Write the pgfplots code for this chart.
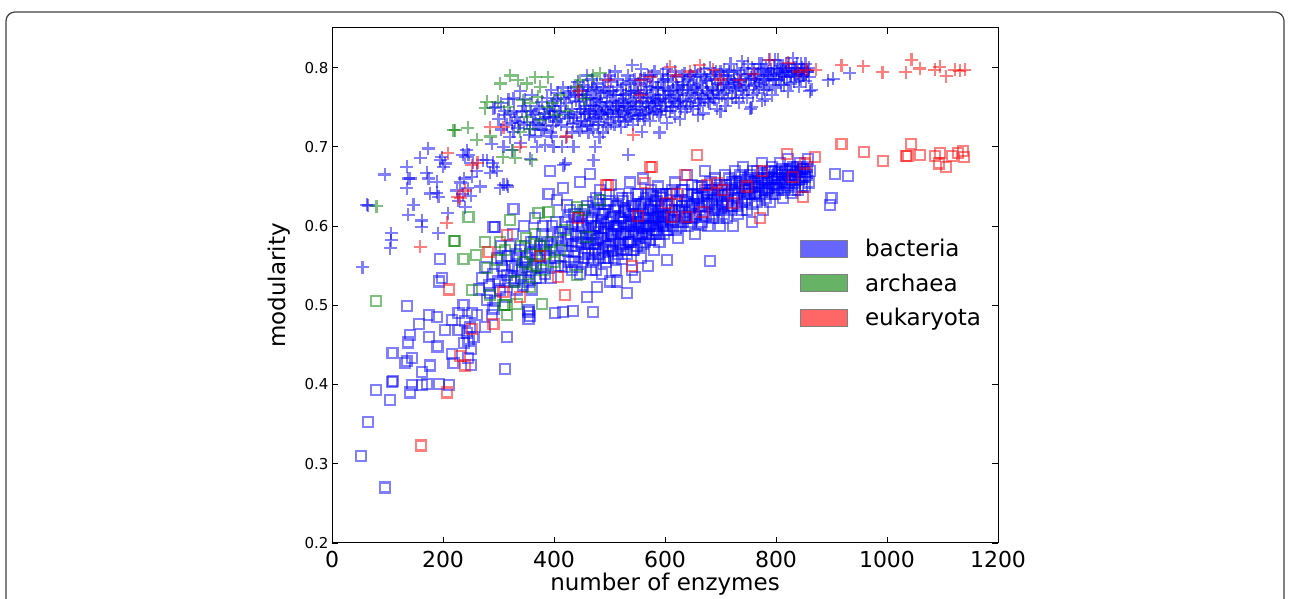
\documentclass[border=0pt]{standalone}
\usepackage{fontspec}
\setmainfont{DejaVu Sans}
\usepackage{pgfplots}
\usepackage{pgfplotstable}
\pgfplotsset{compat=1.18}

% bacteria, plus marker (x = number of enzymes, y = modularity)
\pgfplotstableread{
x y
55 0.548
63 0.627
65 0.626
95 0.665
107 0.591
107 0.582
105 0.572
135 0.675
137 0.66
135 0.648
141 0.66
137 0.614
147 0.627
159 0.686
162 0.607
162 0.599
171 0.667
174 0.66
173 0.698
177 0.641
189 0.656
189 0.642
191 0.591
192 0.637
195 0.683
198 0.687
200 0.675
204 0.679
209 0.616
225 0.645
228 0.632
231 0.655
236 0.69
240 0.687
243 0.696
246 0.69
240 0.624
238 0.66
245 0.648
250 0.638
254 0.68
252 0.662
236 0.64
261 0.67
267 0.65
272 0.683
279 0.683
285 0.667
290 0.68
291 0.675
297 0.67
303 0.648
309 0.652
315 0.652
317 0.65
309 0.70
324 0.696
294 0.75
291 0.749
312 0.74
324 0.73
327 0.719
288 0.704
321 0.742
327 0.761
333 0.738
339 0.77
342 0.744
357 0.723
366 0.713
369 0.70
357 0.685
381 0.721
384 0.702
396 0.713
399 0.70
414 0.70
417 0.677
420 0.679
435 0.70
471 0.683
474 0.70
534 0.69
558 0.719
345 0.752
352 0.731
360 0.765
366 0.742
372 0.728
378 0.757
384 0.737
390 0.748
395 0.772
398 0.726
402 0.745
405 0.76
408 0.735
412 0.752
416 0.775
420 0.742
424 0.725
428 0.763
432 0.748
436 0.737
440 0.758
443 0.782
446 0.72
448 0.744
452 0.766
455 0.733
458 0.752
460 0.79
462 0.741
465 0.762
467 0.728
470 0.753
472 0.775
475 0.738
477 0.76
480 0.745
482 0.712
485 0.768
487 0.752
490 0.735
492 0.785
495 0.757
497 0.744
500 0.77
502 0.73
505 0.758
507 0.748
510 0.795
512 0.765
515 0.738
517 0.755
520 0.772
523 0.745
525 0.76
528 0.732
530 0.78
533 0.752
536 0.768
538 0.74
541 0.803
543 0.757
546 0.746
548 0.772
551 0.735
554 0.762
556 0.785
559 0.75
562 0.768
565 0.743
567 0.777
570 0.756
573 0.733
576 0.79
578 0.762
581 0.748
584 0.772
587 0.758
590 0.74
593 0.782
596 0.765
600 0.752
603 0.798
606 0.77
609 0.745
612 0.76
615 0.782
618 0.738
621 0.765
624 0.775
627 0.752
630 0.79
633 0.76
636 0.744
639 0.772
642 0.785
645 0.758
648 0.768
651 0.748
654 0.795
657 0.772
660 0.755
663 0.781
666 0.765
669 0.742
672 0.788
675 0.77
678 0.757
681 0.8
684 0.775
687 0.762
690 0.785
693 0.748
696 0.772
700 0.795
703 0.765
706 0.78
709 0.752
712 0.79
715 0.775
718 0.805
721 0.762
724 0.785
727 0.77
730 0.797
733 0.756
736 0.782
739 0.808
742 0.775
745 0.79
748 0.762
751 0.785
754 0.748
757 0.8
760 0.777
763 0.79
766 0.768
769 0.805
772 0.782
775 0.758
778 0.795
781 0.785
784 0.772
787 0.81
790 0.79
793 0.765
796 0.8
800 0.785
803 0.81
806 0.793
809 0.778
812 0.8
815 0.788
818 0.805
821 0.77
824 0.797
827 0.79
830 0.812
833 0.782
836 0.8
839 0.793
842 0.776
845 0.805
848 0.79
851 0.798
854 0.783
857 0.795
860 0.788
861 0.77
864 0.772
894 0.784
903 0.786
933 0.793
603 0.73
627 0.735
590 0.718
660 0.74
700 0.745
756 0.75
780 0.76
300 0.735
305 0.722
310 0.745
315 0.728
320 0.712
330 0.733
335 0.724
340 0.705
346 0.728
350 0.745
355 0.715
362 0.74
368 0.73
373 0.748
377 0.722
382 0.742
386 0.728
392 0.738
394 0.718
397 0.752
401 0.758
404 0.732
407 0.768
410 0.744
413 0.728
418 0.761
422 0.755
426 0.737
430 0.77
434 0.729
438 0.765
442 0.741
445 0.757
449 0.733
451 0.771
454 0.748
457 0.765
459 0.727
461 0.776
464 0.745
466 0.752
468 0.771
471 0.736
473 0.759
476 0.748
478 0.78
481 0.731
483 0.757
486 0.742
488 0.776
491 0.75
493 0.728
496 0.768
498 0.741
501 0.755
503 0.782
506 0.738
508 0.765
511 0.746
513 0.776
516 0.751
518 0.733
521 0.758
524 0.778
526 0.742
529 0.766
531 0.75
534 0.735
537 0.783
539 0.755
542 0.743
544 0.77
547 0.758
549 0.739
552 0.78
555 0.748
557 0.767
560 0.74
563 0.786
566 0.755
568 0.763
571 0.745
574 0.776
577 0.752
579 0.782
582 0.76
585 0.744
588 0.774
591 0.755
594 0.748
597 0.785
599 0.765
602 0.757
605 0.785
608 0.762
611 0.75
614 0.772
617 0.758
620 0.788
623 0.755
626 0.768
629 0.748
632 0.778
635 0.792
638 0.757
641 0.765
644 0.778
647 0.752
650 0.788
653 0.762
656 0.778
659 0.768
662 0.752
665 0.792
668 0.775
671 0.76
674 0.783
677 0.768
680 0.755
683 0.79
686 0.772
689 0.76
692 0.795
695 0.78
698 0.762
701 0.778
704 0.79
707 0.768
710 0.772
713 0.76
716 0.795
719 0.782
722 0.775
725 0.795
728 0.762
731 0.785
734 0.778
737 0.792
740 0.765
743 0.8
746 0.778
749 0.792
752 0.772
755 0.787
758 0.765
761 0.798
764 0.78
767 0.792
770 0.775
773 0.798
776 0.785
779 0.772
782 0.8
785 0.79
788 0.778
791 0.798
794 0.785
797 0.792
799 0.775
802 0.798
805 0.785
808 0.802
811 0.79
814 0.778
817 0.795
820 0.788
823 0.805
826 0.78
829 0.795
832 0.8
835 0.79
838 0.805
841 0.792
844 0.785
847 0.8
850 0.79
853 0.805
856 0.795
859 0.8
421 0.712
425 0.768
429 0.74
433 0.718
437 0.775
441 0.73
444 0.765
447 0.748
450 0.725
453 0.778
456 0.742
459 0.762
462 0.718
465 0.735
468 0.785
470 0.722
473 0.745
476 0.772
479 0.728
482 0.762
485 0.74
488 0.718
491 0.77
494 0.747
497 0.725
500 0.79
503 0.742
506 0.77
509 0.728
512 0.752
515 0.785
518 0.745
521 0.725
524 0.765
527 0.755
530 0.738
533 0.79
536 0.748
539 0.77
542 0.728
545 0.785
548 0.752
551 0.768
554 0.74
557 0.798
560 0.758
563 0.735
566 0.772
569 0.79
572 0.75
575 0.765
578 0.742
581 0.795
584 0.758
587 0.775
590 0.76
593 0.745
596 0.792
599 0.775
602 0.745
606 0.79
610 0.77
614 0.75
618 0.795
622 0.778
626 0.758
630 0.772
634 0.782
640 0.75
646 0.79
652 0.775
658 0.79
664 0.76
670 0.798
676 0.785
682 0.765
688 0.792
694 0.77
706 0.798
714 0.785
726 0.78
738 0.772
750 0.805
762 0.785
774 0.805
786 0.795
798 0.81
810 0.795
822 0.8
834 0.795
846 0.795
305 0.755
318 0.76
328 0.745
338 0.73
348 0.76
358 0.745
363 0.728
370 0.752
380 0.735
388 0.762
393 0.745
399 0.738
}\bplus

% bacteria, square marker
\pgfplotstableread{
x y
53 0.31
65 0.353
79 0.393
95 0.27
105 0.38
108 0.403
110 0.405
109 0.44
135 0.499
132 0.427
135 0.43
144 0.433
137 0.453
141 0.462
141 0.39
144 0.399
157 0.476
162 0.399
162 0.416
171 0.401
174 0.488
174 0.46
177 0.424
189 0.485
190 0.448
192 0.401
192 0.53
195 0.558
198 0.535
204 0.469
211 0.399
216 0.481
216 0.439
219 0.427
228 0.49
228 0.469
237 0.50
240 0.48
243 0.465
246 0.455
248 0.472
250 0.445
252 0.49
255 0.46
238 0.452
245 0.433
250 0.425
261 0.488
276 0.473
279 0.507
285 0.515
288 0.488
291 0.496
294 0.505
291 0.599
294 0.599
312 0.42
315 0.46
354 0.494
357 0.486
354 0.492
354 0.483
327 0.622
265 0.52
270 0.535
275 0.548
283 0.525
290 0.54
297 0.56
300 0.53
305 0.575
310 0.545
314 0.51
318 0.562
322 0.535
326 0.59
330 0.55
334 0.52
338 0.57
342 0.545
346 0.6
350 0.56
354 0.53
358 0.58
362 0.55
366 0.61
370 0.565
374 0.535
378 0.59
382 0.575
386 0.55
390 0.641
393 0.669
396 0.6
400 0.57
402 0.49
405 0.633
408 0.585
412 0.55
417 0.648
417 0.492
420 0.605
423 0.627
426 0.568
430 0.59
433 0.545
435 0.493
437 0.615
440 0.575
443 0.6
447 0.656
450 0.555
453 0.585
456 0.62
459 0.51
461 0.57
463 0.595
465 0.666
467 0.545
469 0.61
471 0.491
473 0.578
475 0.635
477 0.523
479 0.6
481 0.565
483 0.645
485 0.585
487 0.54
489 0.615
491 0.598
493 0.555
495 0.628
497 0.575
499 0.605
501 0.53
503 0.652
505 0.59
507 0.568
509 0.62
511 0.545
513 0.53
515 0.6
517 0.64
519 0.575
521 0.61
523 0.558
525 0.632
527 0.59
529 0.57
531 0.515
533 0.62
535 0.6
537 0.655
539 0.58
541 0.545
543 0.615
545 0.595
546 0.536
548 0.64
550 0.575
552 0.605
554 0.625
556 0.56
558 0.59
560 0.66
562 0.61
564 0.58
566 0.635
568 0.6
570 0.55
572 0.62
574 0.645
576 0.59
578 0.605
580 0.57
582 0.63
584 0.615
586 0.595
588 0.65
590 0.58
592 0.62
594 0.605
596 0.64
598 0.59
600 0.625
603 0.557
603 0.61
606 0.595
609 0.64
612 0.62
615 0.6
618 0.655
621 0.63
624 0.585
627 0.615
630 0.645
633 0.605
636 0.63
639 0.665
642 0.6
645 0.625
648 0.64
651 0.61
654 0.59
657 0.635
660 0.65
663 0.62
666 0.605
669 0.64
672 0.67
675 0.625
678 0.6
681 0.556
681 0.645
684 0.63
687 0.61
690 0.66
693 0.635
696 0.62
699 0.6
702 0.645
705 0.625
708 0.665
711 0.61
714 0.64
717 0.652
720 0.625
723 0.6
726 0.67
729 0.64
732 0.615
735 0.655
738 0.63
741 0.675
744 0.645
747 0.62
750 0.66
753 0.64
756 0.605
759 0.67
762 0.65
765 0.63
768 0.66
771 0.64
774 0.68
777 0.62
780 0.655
783 0.645
786 0.668
789 0.63
792 0.675
795 0.65
798 0.64
801 0.665
804 0.645
807 0.68
810 0.655
813 0.635
816 0.67
819 0.652
822 0.685
825 0.66
828 0.642
831 0.675
834 0.655
837 0.668
840 0.645
843 0.68
846 0.66
849 0.672
852 0.65
855 0.665
858 0.685
861 0.67
897 0.627
900 0.636
906 0.666
930 0.663
302 0.52
306 0.55
316 0.538
320 0.575
328 0.53
332 0.565
336 0.545
344 0.525
348 0.575
352 0.548
356 0.565
360 0.52
364 0.58
368 0.535
372 0.56
376 0.548
380 0.6
384 0.54
388 0.58
392 0.56
395 0.535
398 0.59
401 0.56
404 0.605
407 0.55
410 0.592
414 0.575
419 0.548
422 0.585
425 0.612
428 0.555
432 0.6
436 0.568
439 0.59
442 0.548
445 0.612
448 0.578
451 0.6
454 0.56
457 0.585
460 0.625
462 0.56
464 0.578
466 0.605
468 0.588
470 0.555
472 0.62
474 0.57
476 0.6
478 0.583
480 0.628
482 0.56
484 0.598
486 0.615
488 0.57
490 0.59
492 0.62
494 0.575
496 0.605
498 0.56
500 0.632
502 0.59
504 0.57
506 0.612
508 0.6
510 0.58
512 0.625
514 0.595
516 0.565
518 0.61
520 0.59
522 0.635
524 0.578
526 0.605
528 0.618
530 0.59
532 0.565
534 0.635
536 0.58
538 0.605
540 0.625
542 0.59
544 0.57
547 0.615
549 0.6
551 0.64
553 0.585
555 0.61
557 0.628
559 0.598
561 0.578
563 0.63
565 0.61
567 0.59
569 0.64
571 0.6
573 0.582
575 0.625
577 0.61
579 0.638
581 0.595
583 0.6
585 0.632
587 0.612
589 0.59
591 0.64
593 0.605
595 0.625
597 0.6
599 0.612
601 0.64
604 0.595
607 0.625
610 0.605
613 0.645
616 0.612
619 0.595
622 0.632
625 0.62
628 0.6
631 0.625
634 0.645
637 0.61
640 0.63
643 0.62
646 0.605
649 0.652
652 0.628
655 0.612
658 0.64
661 0.625
664 0.602
667 0.65
670 0.63
673 0.612
676 0.642
679 0.628
682 0.655
685 0.615
688 0.64
691 0.625
694 0.652
697 0.61
700 0.638
703 0.628
706 0.615
709 0.652
712 0.63
715 0.66
718 0.62
721 0.645
724 0.635
727 0.655
730 0.625
733 0.648
736 0.665
739 0.62
742 0.64
745 0.658
748 0.635
751 0.648
754 0.665
757 0.628
760 0.655
763 0.642
766 0.67
769 0.638
772 0.655
775 0.645
778 0.665
781 0.635
784 0.66
787 0.648
790 0.67
793 0.64
796 0.66
799 0.652
802 0.648
805 0.668
808 0.655
811 0.672
814 0.645
817 0.66
820 0.67
823 0.65
826 0.672
829 0.658
832 0.665
835 0.645
838 0.675
841 0.66
844 0.668
847 0.65
850 0.672
853 0.662
856 0.675
859 0.655
421 0.57
425 0.59
429 0.62
433 0.575
437 0.555
441 0.605
444 0.58
447 0.54
450 0.615
453 0.6
456 0.565
459 0.58
462 0.61
465 0.59
468 0.565
470 0.63
473 0.6
476 0.545
479 0.585
482 0.62
485 0.605
488 0.58
491 0.56
494 0.64
497 0.595
500 0.575
503 0.61
506 0.59
509 0.56
512 0.6
515 0.625
518 0.585
521 0.57
524 0.605
527 0.62
530 0.6
533 0.58
536 0.615
539 0.6
542 0.57
545 0.625
548 0.605
551 0.59
554 0.6
557 0.575
560 0.62
563 0.6
566 0.585
569 0.615
572 0.6
575 0.64
578 0.62
581 0.61
584 0.59
587 0.625
590 0.61
593 0.635
596 0.615
599 0.6
606 0.615
612 0.64
618 0.62
624 0.605
630 0.625
636 0.61
642 0.64
648 0.625
654 0.615
660 0.635
666 0.625
672 0.645
678 0.64
684 0.645
690 0.62
696 0.645
702 0.63
708 0.64
714 0.625
720 0.655
726 0.645
732 0.635
738 0.65
744 0.63
750 0.645
756 0.655
762 0.64
768 0.65
774 0.66
780 0.645
786 0.655
792 0.66
798 0.67
804 0.66
810 0.665
816 0.655
822 0.665
828 0.67
834 0.665
840 0.67
846 0.672
852 0.668
304 0.56
312 0.53
324 0.55
334 0.56
340 0.535
348 0.555
358 0.545
366 0.57
374 0.575
386 0.57
396 0.575
}\bsq

% archaea, plus marker
\pgfplotstableread{
x y
80 0.625
219 0.721
222 0.721
245 0.724
261 0.709
276 0.749
279 0.757
285 0.713
299 0.757
303 0.78
308 0.687
317 0.75
321 0.79
326 0.696
330 0.686
335 0.784
339 0.719
344 0.759
351 0.78
351 0.738
357 0.755
357 0.723
360 0.683
366 0.788
371 0.763
375 0.776
375 0.734
387 0.75
389 0.788
398 0.755
405 0.74
412 0.765
425 0.745
441 0.776
447 0.784
455 0.76
470 0.79
483 0.793
}\aplus

% archaea, square marker
\pgfplotstableread{
x y
79 0.505
220 0.581
222 0.581
237 0.559
246 0.611
252 0.519
259 0.564
276 0.58
279 0.547
285 0.513
297 0.557
303 0.58
309 0.50
312 0.57
312 0.5
315 0.488
321 0.608
330 0.53
333 0.502
340 0.575
345 0.555
350 0.585
355 0.54
357 0.523
360 0.565
365 0.59
368 0.55
372 0.616
375 0.575
378 0.502
380 0.545
385 0.565
390 0.618
395 0.58
400 0.555
410 0.57
420 0.595
441 0.624
441 0.538
453 0.62
459 0.586
483 0.633
}\asq

% eukaryota, plus marker
\pgfplotstableread{
x y
159 0.574
207 0.604
209 0.692
227 0.637
231 0.635
240 0.645
252 0.677
262 0.68
285 0.725
309 0.725
339 0.70
423 0.713
444 0.77
498 0.784
543 0.715
555 0.765
555 0.784
573 0.788
609 0.801
620 0.79
645 0.795
663 0.803
687 0.797
700 0.785
735 0.784
760 0.792
789 0.81
822 0.806
840 0.795
855 0.797
872 0.797
918 0.803
957 0.802
992 0.794
1034 0.794
1044 0.81
1059 0.799
1086 0.797
1095 0.801
1107 0.789
1122 0.797
1131 0.796
1140 0.797
}\eplus

% eukaryota, square marker
\pgfplotstableread{
x y
160 0.323
207 0.39
210 0.52
231 0.436
240 0.424
252 0.47
282 0.567
291 0.476
309 0.517
315 0.589
339 0.51
375 0.562
408 0.536
420 0.513
444 0.61
494 0.652
498 0.652
540 0.55
552 0.613
564 0.654
573 0.675
576 0.675
603 0.629
612 0.612
621 0.641
636 0.664
639 0.612
657 0.69
669 0.618
675 0.652
693 0.654
705 0.645
723 0.629
747 0.65
771 0.61
774 0.669
819 0.691
831 0.662
849 0.637
852 0.679
870 0.687
918 0.704
959 0.693
992 0.682
1034 0.689
1037 0.689
1044 0.704
1059 0.69
1086 0.688
1093 0.679
1095 0.692
1107 0.675
1117 0.688
1128 0.692
1137 0.695
1139 0.687
}\esq

\definecolor{mplblue}{rgb}{0,0,1}
\definecolor{mplgreen}{rgb}{0,0.5,0}
\definecolor{mplred}{rgb}{1,0,0}

\begin{document}
\begin{tikzpicture}
\useasboundingbox (0pt,0pt) rectangle (1290pt,599pt);
\draw[rounded corners=9pt, line width=1.2pt, draw=black!75] (6pt,-30pt) rectangle (1284pt,587pt);
\begin{axis}[
  at={(332pt,56pt)}, anchor=south west,
  scale only axis, width=666pt, height=515pt,
  xmin=0, xmax=1200, ymin=0.2, ymax=0.85,
  xtick={0,200,...,1200},
  ytick={0.2,0.3,0.4,0.5,0.6,0.7,0.8},
  tick align=inside,
  major tick length=6pt,
  every tick/.style={black, line width=0.9pt},
  axis line style={line width=1pt},
  scaled ticks=false,
  /pgf/number format/assume math mode=true,
  /pgf/number format/1000 sep={},
  yticklabel style={font=\fontsize{15}{18}\selectfont, /pgf/number format/fixed, /pgf/number format/precision=1, /pgf/number format/fixed zerofill},
  xticklabel style={font=\fontsize{22}{26}\selectfont, yshift=-5pt},
  xlabel={number of enzymes},
  ylabel={modularity},
  xlabel style={font=\fontsize{23}{27}\selectfont, yshift=2pt},
  ylabel style={font=\fontsize{23}{27}\selectfont, yshift=7pt},
  legend style={draw=none, fill=none, at={(rel axis cs:0.698,0.598)}, anchor=north west,
    font=\fontsize{23}{27}\selectfont, row sep=11.5pt,
    /tikz/every odd column/.append style={column sep=15pt}},
  legend cell align=left,
  legend image code/.code={\draw[#1] (0pt,-8.5pt) rectangle (47pt,8.5pt);},
]
\addplot[only marks, mark=+, mark size=6.5pt, mplblue, mark options={line width=2.2pt, draw opacity=0.5}, forget plot] table[x=x,y=y] {\bplus};
\addplot[only marks, mark=square, mark size=5pt, mplblue, mark options={line width=2.1pt, draw opacity=0.5}, forget plot] table[x=x,y=y] {\bsq};
\addplot[only marks, mark=+, mark size=6.5pt, mplgreen, mark options={line width=2.2pt, draw opacity=0.5}, forget plot] table[x=x,y=y] {\aplus};
\addplot[only marks, mark=square, mark size=5pt, mplgreen, mark options={line width=2.1pt, draw opacity=0.5}, forget plot] table[x=x,y=y] {\asq};
\addplot[only marks, mark=+, mark size=6.5pt, mplred, mark options={line width=2.2pt, draw opacity=0.5}, forget plot] table[x=x,y=y] {\eplus};
\addplot[only marks, mark=square, mark size=5pt, mplred, mark options={line width=2.1pt, draw opacity=0.5}, forget plot] table[x=x,y=y] {\esq};
\addlegendimage{fill=mplblue, fill opacity=0.6, draw=gray, line width=1pt}
\addlegendentry{bacteria}
\addlegendimage{fill=mplgreen, fill opacity=0.6, draw=gray, line width=1pt}
\addlegendentry{archaea}
\addlegendimage{fill=mplred, fill opacity=0.6, draw=gray, line width=1pt}
\addlegendentry{eukaryota}
\end{axis}
\end{tikzpicture}
\end{document}
